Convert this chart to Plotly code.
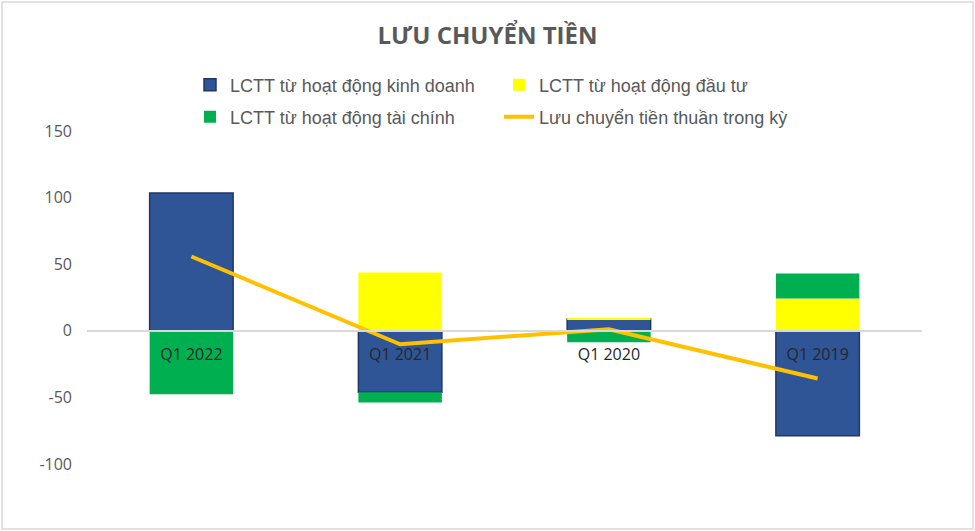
import plotly.graph_objects as go

# chart data (billion VND)
quarters = ["Q1 2022", "Q1 2021", "Q1 2020", "Q1 2019"]
kinh_doanh = [103.5, -46.2, 8.8, -78.8]
dau_tu = [-0.4, 43.7, 1.0, 24.3]
tai_chinh = [-47.3, -7.6, -8.6, 18.7]
thuan = [55.8, -10.1, 1.2, -35.8]
y_ticks = [-100, -50, 0, 50, 100, 150]

W, H = 975, 531
ML, MR, MT, MB = 87, 53, 131, 67
PW, PH = W - ML - MR, H - MT - MB

GREY = "#595959"
LEG_FONT = dict(family="Liberation Sans, Arial", size=18, color=GREY)

fig = go.Figure()
fig.add_trace(go.Bar(
    name="LCTT từ hoạt động kinh doanh", x=quarters, y=kinh_doanh,
    marker=dict(color="#2f5597", line=dict(color="#203864", width=1.5)),
    width=0.4, legend="legend",
))
fig.add_trace(go.Bar(
    name="LCTT từ hoạt động đầu tư", x=quarters, y=dau_tu,
    marker=dict(color="#ffff00", line=dict(width=0)),
    width=0.4, legend="legend",
))
fig.add_trace(go.Bar(
    name="LCTT từ hoạt động tài chính", x=quarters, y=tai_chinh,
    marker=dict(color="#00b050", line=dict(width=0)),
    width=0.4, legend="legend2",
))
fig.add_trace(go.Scatter(
    name="Lưu chuyển tiền thuần trong kỳ", x=quarters, y=thuan,
    mode="lines", line=dict(color="#ffc000", width=4),
    legend="legend2",
))

ymin, ymax = y_ticks[0], y_ticks[-1]
zero_pos = (0 - ymin) / (ymax - ymin)

fig.update_layout(
    width=W, height=H,
    margin=dict(l=ML, r=MR, t=MT, b=MB),
    paper_bgcolor="white", plot_bgcolor="white",
    barmode="relative",
    bargap=0.6,
    title=dict(
        text="<b>LƯU CHUYỂN TIỀN</b>",
        x=0.5, xanchor="center", y=1 - 36 / H, yanchor="middle",
        font=dict(family="Open Sans", size=24, color=GREY),
    ),
    xaxis=dict(
        type="category", anchor="free", position=zero_pos,
        showline=True, linecolor="#d9d9d9", linewidth=1.5,
        showgrid=False, ticks="", zeroline=False,
        tickfont=dict(family="Open Sans", size=16, color="#262626"),
        ticklabelstandoff=9,
    ),
    yaxis=dict(
        range=[ymin, ymax], tickvals=y_ticks,
        ticktext=[str(v) for v in y_ticks],  # plain hyphen like Excel
        showgrid=False, zeroline=False, showline=False, ticks="",
        tickfont=dict(family="Open Sans", size=16, color=GREY),
        ticklabelstandoff=14,
    ),
    legend=dict(
        orientation="h", x=(190 - ML) / PW, xanchor="left",
        y=(H - MB - 85) / PH, yanchor="middle",
        entrywidth=264, entrywidthmode="pixels",
        font=LEG_FONT, bgcolor="rgba(0,0,0,0)",
    ),
    legend2=dict(
        orientation="h", x=(190 - ML) / PW, xanchor="left",
        y=(H - MB - 117) / PH, yanchor="middle",
        entrywidth=264, entrywidthmode="pixels",
        font=LEG_FONT, bgcolor="rgba(0,0,0,0)",
    ),
    shapes=[dict(
        type="rect", xref="paper", yref="paper",
        x0=(2 - ML) / PW, x1=(W - 2 - ML) / PW,
        y0=-(MB - 2) / PH, y1=1 + (MT - 2) / PH,
        line=dict(color="#d9d9d9", width=1.5), layer="below",
    )],
)

# the page body has a default 8px margin; drop it so the chart fills the window
fig.write_html(
    "out.html",
    config={"displayModeBar": False},
    post_script="document.body.style.margin='0px';",
)
